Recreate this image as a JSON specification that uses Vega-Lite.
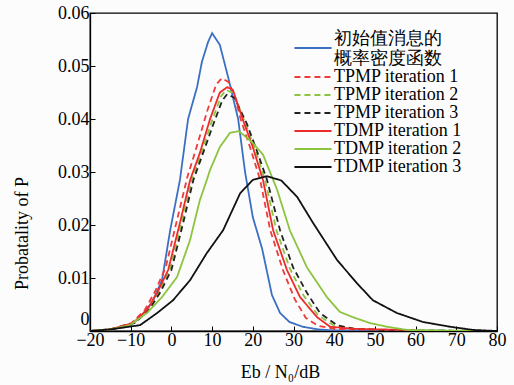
{
  "$schema": "https://vega.github.io/schema/vega-lite/v6.json",
  "width": 407,
  "height": 318,
  "autosize": {"type": "none"},
  "padding": {"left": 90, "top": 13, "right": 17, "bottom": 54},
  "background": "#fcfcfc",
  "view": {"stroke": "#000", "strokeWidth": 1.3},
  "data": {
    "values": [
      {"s":"初始值消息的概率密度函数","x":-20,"y":0},{"s":"初始值消息的概率密度函数","x":-15,"y":0.0002},{"s":"初始值消息的概率密度函数","x":-10,"y":0.0011},{"s":"初始值消息的概率密度函数","x":-7.7,"y":0.0026},{"s":"初始值消息的概率密度函数","x":-4.8,"y":0.0053},{"s":"初始值消息的概率密度函数","x":-2.3,"y":0.0096},{"s":"初始值消息的概率密度函数","x":-0.3,"y":0.019},{"s":"初始值消息的概率密度函数","x":2.1,"y":0.0285},{"s":"初始值消息的概率密度函数","x":4.1,"y":0.04},{"s":"初始值消息的概率密度函数","x":6.3,"y":0.046},{"s":"初始值消息的概率密度函数","x":7.5,"y":0.0508},{"s":"初始值消息的概率密度函数","x":9,"y":0.0545},{"s":"初始值消息的概率密度函数","x":10,"y":0.0562},{"s":"初始值消息的概率密度函数","x":11.9,"y":0.054},{"s":"初始值消息的概率密度函数","x":13.9,"y":0.048},{"s":"初始值消息的概率密度函数","x":16.4,"y":0.04},{"s":"初始值消息的概率密度函数","x":18.1,"y":0.03},{"s":"初始值消息的概率密度函数","x":20,"y":0.0215},{"s":"初始值消息的概率密度函数","x":22.3,"y":0.0155},{"s":"初始值消息的概率密度函数","x":24.7,"y":0.0068},{"s":"初始值消息的概率密度函数","x":26.7,"y":0.0034},{"s":"初始值消息的概率密度函数","x":29,"y":0.0017},{"s":"初始值消息的概率密度函数","x":32.3,"y":0.0008},{"s":"初始值消息的概率密度函数","x":36,"y":0.0003},{"s":"初始值消息的概率密度函数","x":40,"y":0.0001},{"s":"初始值消息的概率密度函数","x":50,"y":0.0001},{"s":"初始值消息的概率密度函数","x":80,"y":0},

      {"s":"TPMP iteration 1","x":-20,"y":0},{"s":"TPMP iteration 1","x":-15,"y":0.0003},{"s":"TPMP iteration 1","x":-9.8,"y":0.0015},{"s":"TPMP iteration 1","x":-6.5,"y":0.004},{"s":"TPMP iteration 1","x":-4,"y":0.0075},{"s":"TPMP iteration 1","x":-1.4,"y":0.012},{"s":"TPMP iteration 1","x":1.4,"y":0.021},{"s":"TPMP iteration 1","x":3.9,"y":0.029},{"s":"TPMP iteration 1","x":6.3,"y":0.035},{"s":"TPMP iteration 1","x":8.8,"y":0.0415},{"s":"TPMP iteration 1","x":11,"y":0.0465},{"s":"TPMP iteration 1","x":12.4,"y":0.0477},{"s":"TPMP iteration 1","x":14,"y":0.047},{"s":"TPMP iteration 1","x":15.5,"y":0.0445},{"s":"TPMP iteration 1","x":17,"y":0.04},{"s":"TPMP iteration 1","x":19.4,"y":0.0345},{"s":"TPMP iteration 1","x":21.8,"y":0.0285},{"s":"TPMP iteration 1","x":24.3,"y":0.019},{"s":"TPMP iteration 1","x":27.4,"y":0.0115},{"s":"TPMP iteration 1","x":30.3,"y":0.006},{"s":"TPMP iteration 1","x":33,"y":0.0025},{"s":"TPMP iteration 1","x":36,"y":0.001},{"s":"TPMP iteration 1","x":40,"y":0.0004},{"s":"TPMP iteration 1","x":50,"y":0.0002},{"s":"TPMP iteration 1","x":55,"y":0},{"s":"TPMP iteration 1","x":80,"y":0},

      {"s":"TPMP iteration 2","x":-20,"y":0},{"s":"TPMP iteration 2","x":-15,"y":0.0003},{"s":"TPMP iteration 2","x":-9.2,"y":0.0015},{"s":"TPMP iteration 2","x":-5.8,"y":0.004},{"s":"TPMP iteration 2","x":-3.2,"y":0.0072},{"s":"TPMP iteration 2","x":-0.4,"y":0.0115},{"s":"TPMP iteration 2","x":2.5,"y":0.0204},{"s":"TPMP iteration 2","x":5,"y":0.0285},{"s":"TPMP iteration 2","x":7.4,"y":0.0336},{"s":"TPMP iteration 2","x":9.9,"y":0.0395},{"s":"TPMP iteration 2","x":12.2,"y":0.0443},{"s":"TPMP iteration 2","x":13.5,"y":0.0455},{"s":"TPMP iteration 2","x":15.3,"y":0.0448},{"s":"TPMP iteration 2","x":18,"y":0.0395},{"s":"TPMP iteration 2","x":20.5,"y":0.0345},{"s":"TPMP iteration 2","x":23,"y":0.0285},{"s":"TPMP iteration 2","x":25.8,"y":0.019},{"s":"TPMP iteration 2","x":29.1,"y":0.0118},{"s":"TPMP iteration 2","x":32.4,"y":0.0068},{"s":"TPMP iteration 2","x":36,"y":0.003},{"s":"TPMP iteration 2","x":40,"y":0.001},{"s":"TPMP iteration 2","x":45,"y":0.0004},{"s":"TPMP iteration 2","x":55,"y":0.0001},{"s":"TPMP iteration 2","x":80,"y":0},

      {"s":"TPMP iteration 3","x":-20,"y":0},{"s":"TPMP iteration 3","x":-15,"y":0.0003},{"s":"TPMP iteration 3","x":-9,"y":0.0015},{"s":"TPMP iteration 3","x":-5.5,"y":0.004},{"s":"TPMP iteration 3","x":-2.8,"y":0.0072},{"s":"TPMP iteration 3","x":0,"y":0.0115},{"s":"TPMP iteration 3","x":2.9,"y":0.0204},{"s":"TPMP iteration 3","x":5.4,"y":0.0285},{"s":"TPMP iteration 3","x":7.8,"y":0.0336},{"s":"TPMP iteration 3","x":10.3,"y":0.039},{"s":"TPMP iteration 3","x":12.5,"y":0.0435},{"s":"TPMP iteration 3","x":13.7,"y":0.0447},{"s":"TPMP iteration 3","x":15.5,"y":0.044},{"s":"TPMP iteration 3","x":18.6,"y":0.039},{"s":"TPMP iteration 3","x":21,"y":0.034},{"s":"TPMP iteration 3","x":23.5,"y":0.0285},{"s":"TPMP iteration 3","x":26.7,"y":0.019},{"s":"TPMP iteration 3","x":29.9,"y":0.012},{"s":"TPMP iteration 3","x":33.3,"y":0.0072},{"s":"TPMP iteration 3","x":36.5,"y":0.0034},{"s":"TPMP iteration 3","x":40.7,"y":0.0011},{"s":"TPMP iteration 3","x":45,"y":0.0004},{"s":"TPMP iteration 3","x":55,"y":0.0001},{"s":"TPMP iteration 3","x":80,"y":0},

      {"s":"TDMP iteration 1","x":-20,"y":0},{"s":"TDMP iteration 1","x":-15,"y":0.0003},{"s":"TDMP iteration 1","x":-9.4,"y":0.0015},{"s":"TDMP iteration 1","x":-6,"y":0.004},{"s":"TDMP iteration 1","x":-3.5,"y":0.0072},{"s":"TDMP iteration 1","x":-0.8,"y":0.0115},{"s":"TDMP iteration 1","x":2.1,"y":0.0204},{"s":"TDMP iteration 1","x":4.6,"y":0.0285},{"s":"TDMP iteration 1","x":7,"y":0.0336},{"s":"TDMP iteration 1","x":9.5,"y":0.04},{"s":"TDMP iteration 1","x":11.9,"y":0.045},{"s":"TDMP iteration 1","x":13.7,"y":0.046},{"s":"TDMP iteration 1","x":15.1,"y":0.0455},{"s":"TDMP iteration 1","x":17.5,"y":0.04},{"s":"TDMP iteration 1","x":20,"y":0.0347},{"s":"TDMP iteration 1","x":22.5,"y":0.0285},{"s":"TDMP iteration 1","x":25,"y":0.019},{"s":"TDMP iteration 1","x":28.4,"y":0.0115},{"s":"TDMP iteration 1","x":31.6,"y":0.0064},{"s":"TDMP iteration 1","x":35.8,"y":0.0026},{"s":"TDMP iteration 1","x":39,"y":0.0008},{"s":"TDMP iteration 1","x":45,"y":0.0004},{"s":"TDMP iteration 1","x":58,"y":0.0002},{"s":"TDMP iteration 1","x":60,"y":0},{"s":"TDMP iteration 1","x":80,"y":0},

      {"s":"TDMP iteration 2","x":-20,"y":0},{"s":"TDMP iteration 2","x":-15,"y":0.0003},{"s":"TDMP iteration 2","x":-10.2,"y":0.0011},{"s":"TDMP iteration 2","x":-6,"y":0.0034},{"s":"TDMP iteration 2","x":-2.3,"y":0.0064},{"s":"TDMP iteration 2","x":1.4,"y":0.0102},{"s":"TDMP iteration 2","x":4.6,"y":0.0172},{"s":"TDMP iteration 2","x":5.8,"y":0.021},{"s":"TDMP iteration 2","x":7,"y":0.0247},{"s":"TDMP iteration 2","x":8.7,"y":0.0285},{"s":"TDMP iteration 2","x":9.5,"y":0.0304},{"s":"TDMP iteration 2","x":11.9,"y":0.0347},{"s":"TDMP iteration 2","x":14.4,"y":0.0374},{"s":"TDMP iteration 2","x":16.6,"y":0.0377},{"s":"TDMP iteration 2","x":20,"y":0.0355},{"s":"TDMP iteration 2","x":22.5,"y":0.0333},{"s":"TDMP iteration 2","x":26,"y":0.0266},{"s":"TDMP iteration 2","x":29.1,"y":0.019},{"s":"TDMP iteration 2","x":33.3,"y":0.012},{"s":"TDMP iteration 2","x":38.2,"y":0.0064},{"s":"TDMP iteration 2","x":41.4,"y":0.0036},{"s":"TDMP iteration 2","x":44.6,"y":0.0026},{"s":"TDMP iteration 2","x":48.8,"y":0.0015},{"s":"TDMP iteration 2","x":53,"y":0.0008},{"s":"TDMP iteration 2","x":57.9,"y":0.0002},{"s":"TDMP iteration 2","x":65,"y":0.0001},{"s":"TDMP iteration 2","x":80,"y":0},

      {"s":"TDMP iteration 3","x":-20,"y":0},{"s":"TDMP iteration 3","x":-15,"y":0.0003},{"s":"TDMP iteration 3","x":-7.7,"y":0.0011},{"s":"TDMP iteration 3","x":-3.5,"y":0.0034},{"s":"TDMP iteration 3","x":0.4,"y":0.0058},{"s":"TDMP iteration 3","x":4.6,"y":0.0096},{"s":"TDMP iteration 3","x":8.7,"y":0.0147},{"s":"TDMP iteration 3","x":12.7,"y":0.019},{"s":"TDMP iteration 3","x":16.9,"y":0.026},{"s":"TDMP iteration 3","x":20,"y":0.0285},{"s":"TDMP iteration 3","x":23.5,"y":0.0292},{"s":"TDMP iteration 3","x":27,"y":0.0284},{"s":"TDMP iteration 3","x":30.9,"y":0.0253},{"s":"TDMP iteration 3","x":34.8,"y":0.0204},{"s":"TDMP iteration 3","x":40.7,"y":0.0134},{"s":"TDMP iteration 3","x":45.6,"y":0.009},{"s":"TDMP iteration 3","x":49.5,"y":0.0058},{"s":"TDMP iteration 3","x":55.4,"y":0.0034},{"s":"TDMP iteration 3","x":61.8,"y":0.0017},{"s":"TDMP iteration 3","x":68.5,"y":0.0008},{"s":"TDMP iteration 3","x":74.1,"y":0.0002},{"s":"TDMP iteration 3","x":80,"y":0}
    ]
  },
  "mark": {"type": "line", "strokeWidth": 1.8, "clip": true},
  "encoding": {
    "x": {
      "field": "x", "type": "quantitative",
      "scale": {"domain": [-20, 80], "nice": false},
      "axis": {
        "values": [-20,-10,0,10,20,30,40,50,60,70,80],
        "grid": false, "labelOverlap": false, "labelFlush": false,
        "domainColor": "#000", "domainWidth": 1.3, "tickColor": "#000", "tickSize": -5, "tickWidth": 1,
        "labelFont": "Liberation Serif", "labelFontSize": 18, "labelColor": "#000", "labelPadding": 5,
        "title": "Eb / N₀/dB", "titleFont": "Liberation Serif", "titleFontSize": 18, "titleFontWeight": "normal", "titleColor": "#000",
        "titleX": 190, "titleY": 41, "titleBaseline": "middle"
      }
    },
    "y": {
      "field": "y", "type": "quantitative",
      "scale": {"domain": [0, 0.06], "nice": false},
      "axis": {
        "values": [0,0.01,0.02,0.03,0.04,0.05,0.06], "format": ".2~f",
        "grid": false, "labelOverlap": false, "labelFlush": false,
        "labelBaseline": {"condition": {"test": "datum.value == 0", "value": "bottom"}, "value": "middle"},
        "labelOffset": {"condition": {"test": "datum.value == 0", "value": -3}, "value": 0},
        "domainColor": "#000", "domainWidth": 1.3, "tickColor": "#000", "tickSize": -5, "tickWidth": 1,
        "labelFont": "Liberation Serif", "labelFontSize": 18, "labelColor": "#000", "labelPadding": 6,
        "title": "Probatality of P", "titleFont": "Liberation Serif", "titleFontSize": 18, "titleFontWeight": "normal", "titleColor": "#000",
        "titleX": -68, "titleY": 220, "titleBaseline": "middle"
      }
    },
    "color": {
      "field": "s", "type": "nominal",
      "scale": {
        "domain": ["初始值消息的概率密度函数","TPMP iteration 1","TPMP iteration 2","TPMP iteration 3","TDMP iteration 1","TDMP iteration 2","TDMP iteration 3"],
        "range": ["#3c6fc2","#ee3b3b","#8cc43f","#222222","#ee2b2b","#8cc43f","#111111"]
      },
      "legend": {
        "title": null, "orient": "none", "legendX": 214, "legendY": 26,
        "symbolType": "M-4,0L4,0", "symbolSize": 86, "symbolStrokeWidth": 2,
        "labelFont": "Liberation Serif", "labelFontSize": 18, "labelColor": "#000", "labelOffset": 12, "rowPadding": 0, "labelLimit": 300,
        "labelExpr": "datum.label == '初始值消息的概率密度函数' ? ['初始值消息的','概率密度函数'] : datum.label",
        "encode": {"labels": {"update": {"dy": {"signal": "datum.value == '初始值消息的概率密度函数' ? -9 : 0"}}}}
      }
    },
    "strokeDash": {
      "field": "s", "type": "nominal",
      "scale": {
        "domain": ["初始值消息的概率密度函数","TPMP iteration 1","TPMP iteration 2","TPMP iteration 3","TDMP iteration 1","TDMP iteration 2","TDMP iteration 3"],
        "range": [[1,0],[6,4],[6,4],[6,4],[1,0],[1,0],[1,0]]
      },
      "legend": {
        "title": null, "orient": "none", "legendX": 214, "legendY": 26,
        "symbolType": "M-4,0L4,0", "symbolSize": 86, "symbolStrokeWidth": 2,
        "labelFont": "Liberation Serif", "labelFontSize": 18, "labelColor": "#000", "labelOffset": 12, "rowPadding": 0, "labelLimit": 300,
        "labelExpr": "datum.label == '初始值消息的概率密度函数' ? ['初始值消息的','概率密度函数'] : datum.label",
        "encode": {"labels": {"update": {"dy": {"signal": "datum.value == '初始值消息的概率密度函数' ? -9 : 0"}}}}
      }
    }
  }
}
